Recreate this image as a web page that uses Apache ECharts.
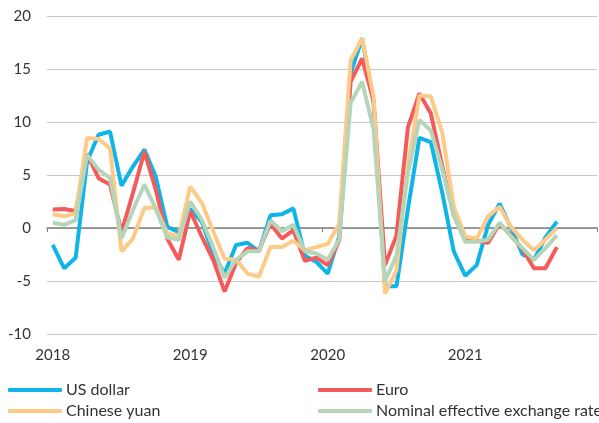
<!DOCTYPE html>
<html>
<head>
<meta charset="utf-8">
<script src="https://cdn.jsdelivr.net/npm/echarts@6/dist/echarts.min.js"></script>
<style>
  html, body { margin: 0; padding: 0; background: #fff; }
  #chart { width: 599px; height: 423px; }
</style>
</head>
<body>
<div id="chart"></div>
<script>
// monthly, Jan 2018 .. Dec 2021 (data up to Sep 2021)
const years = ['2018', '2019', '2020', '2021'];
const months = [];
years.forEach(y => { for (let m = 0; m < 12; m++) months.push(m === 0 ? y : y + '-' + (m + 1)); });

const usDollar = [-1.6, -3.8, -2.8, 6.3, 8.8, 9.1, 4.0, 5.8, 7.4, 4.8, 0.1, -0.4,
  1.8, 0.6, -2.4, -4.3, -1.6, -1.4, -2.2, 1.2, 1.3, 1.85, -2.6, -3.2,
  -4.3, -0.8, 14.6, 17.9, 11.8, -5.5, -5.5, 1.8, 8.5, 8.1, 3.3, -2.2,
  -4.5, -3.5, 0.3, 2.3, 0.0, -2.5, -3.0, -0.9, 0.6];
const euro = [1.75, 1.8, 1.6, 7.0, 4.7, 4.1, -0.4, 3.3, 7.2, 3.6, -1.0, -3.0,
  1.6, -0.8, -3.0, -6.0, -3.3, -1.9, -2.1, 0.4, -1.0, -0.2, -3.1, -2.8,
  -3.5, -1.2, 13.8, 16.0, 12.0, -3.5, -0.7, 9.5, 12.7, 10.8, 5.8, 1.2,
  -1.0, -1.2, -1.4, 0.4, -0.7, -2.0, -3.8, -3.8, -1.8];
const yuan = [1.3, 1.1, 1.4, 8.5, 8.4, 7.5, -2.2, -1.0, 1.9, 1.9, -0.5, -0.8,
  3.9, 2.4, -0.3, -2.9, -3.0, -4.3, -4.6, -1.8, -1.8, -1.2, -2.1, -1.8,
  -1.5, 0.4, 15.8, 17.9, 12.4, -6.2, -4.0, 5.9, 12.5, 12.4, 9.0, 2.0,
  -0.8, -1.0, 1.1, 2.0, 0.1, -1.1, -2.1, -1.1, 0.0];
const neer = [0.5, 0.3, 0.75, 6.9, 5.5, 4.7, -1.0, 1.7, 4.1, 1.8, -0.9, -1.1,
  2.5, 0.8, -1.8, -4.7, -3.0, -2.2, -2.2, 0.7, -0.3, 0.3, -2.2, -2.4,
  -3.0, -1.1, 11.8, 13.8, 9.3, -5.0, -2.6, 5.2, 10.2, 9.2, 5.5, 1.2,
  -1.3, -1.3, -1.1, 0.5, -0.8, -1.9, -3.0, -1.9, -0.7];

const names = ['US dollar', 'Euro', 'Chinese yuan', 'Nominal effective exchange rate'];
const colors = ['#0fb5e6', '#f45a5a', '#fdca87', '#b5d4b8'];
const values = [usDollar, euro, yuan, neer];

const font = 'Lato, "Open Sans", sans-serif';
const myChart = echarts.init(document.getElementById('chart'));

const legendPos = [
  { left: 8, top: 382 },
  { left: 318, top: 382 },
  { left: 8, top: 403 },
  { left: 318, top: 403 }
];

const option = {
  animation: false,
  color: colors,
  grid: { left: 47, right: 2, top: 16, bottom: 89, containLabel: false },
  legend: names.map((n, i) => ({
    data: [n],
    left: legendPos[i].left,
    top: legendPos[i].top,
    icon: 'roundRect',
    itemWidth: 54,
    itemHeight: 4,
    itemGap: 0,
    textStyle: { fontFamily: font, fontSize: 16, color: '#333', padding: [0, 0, 0, -1] },
    padding: 0
  })),
  xAxis: [
    {
      type: 'category',
      data: months,
      position: 'bottom',
      axisLine: { show: false, onZero: false },
      axisTick: { show: false },
      axisLabel: {
        interval: 11,
        margin: 14,
        fontFamily: font,
        fontSize: 15,
        color: '#333'
      },
      splitLine: { show: false }
    },
    {
      type: 'category',
      data: months,
      position: 'top',
      axisLine: { show: true, onZero: true, lineStyle: { color: '#7f7f7f', width: 1.5 } },
      axisTick: { show: true, inside: true, interval: 23, length: 4, lineStyle: { color: '#7f7f7f' } },
      axisLabel: { show: false },
      splitLine: { show: false }
    }
  ],
  yAxis: {
    type: 'value',
    min: -10,
    max: 20,
    interval: 5,
    axisLine: { show: false },
    axisTick: { show: false },
    axisLabel: { margin: 16, fontFamily: font, fontSize: 15, color: '#333' },
    splitLine: { lineStyle: { color: '#c8c8c8', width: 1.2 } }
  },
  series: names.map((n, i) => ({
    name: n,
    type: 'line',
    data: values[i],
    showSymbol: false,
    symbol: 'none',
    lineStyle: { width: 4, color: colors[i] },
    z: 2 + i
  }))
};

myChart.setOption(option);
</script>
</body>
</html>
